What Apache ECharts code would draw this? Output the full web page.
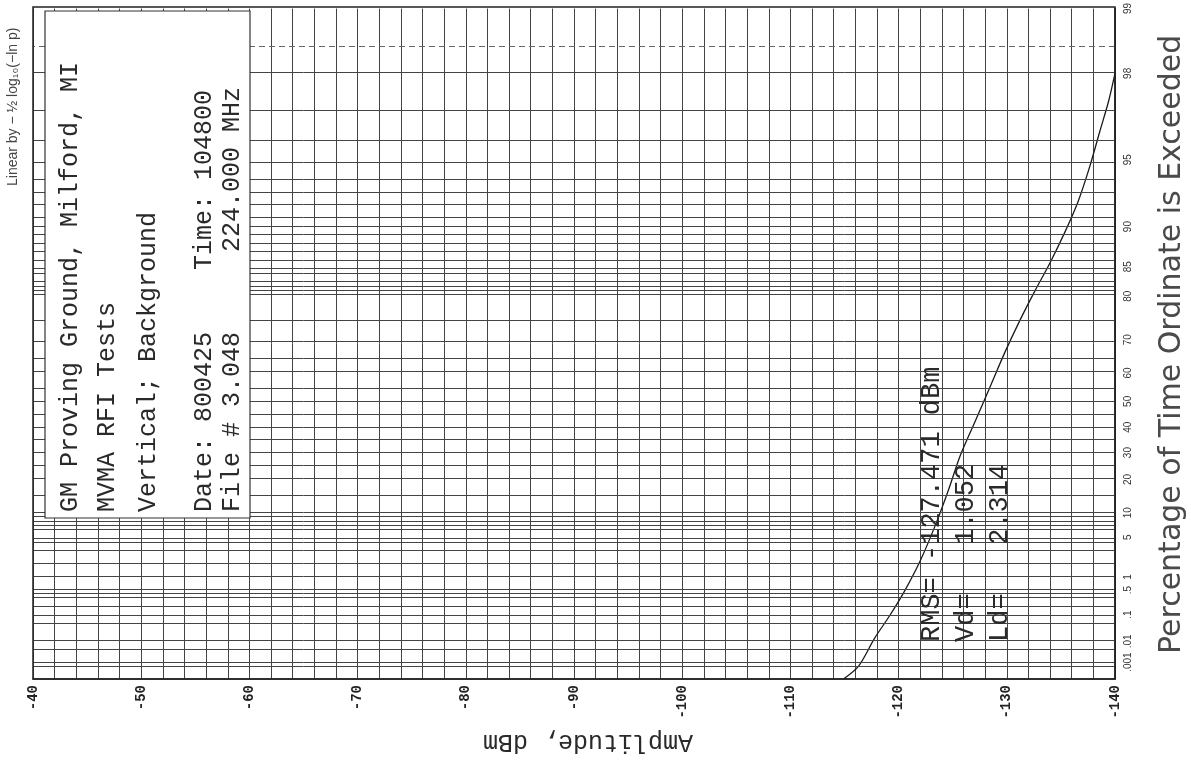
<!DOCTYPE html>
<html>
<head>
<meta charset="utf-8">
<script src="https://cdn.jsdelivr.net/npm/echarts@6/dist/echarts.min.js"></script>
<style>
html,body{margin:0;padding:0;background:#fff;}
#chart{width:1191px;height:764px;}
</style>
</head>
<body>
<div id="chart"></div>
<script>
// ---- data (amplitude in dBm, percentage of time exceeded) ----
const amplitudeDbm = [-114.9, -116.3, -117.8, -119.2, -120.6, -122.0, -123.4, -124.6, -125.7, -127.1, -128.5, -129.8, -131.2, -132.6, -134.0, -135.4, -136.6, -137.7, -138.6, -139.4, -140.0];
const percentExceeded = [0.0001, 0.0006, 0.014, 0.096, 0.50, 2.1, 7.2, 16.4, 28.9, 42.6, 55.7, 66.3, 74.8, 81.0, 85.6, 89.5, 92.3, 94.7, 96.3, 97.3, 98.0];

// percentage tick labels (right axis)
const pctTicks = [99, 98, 95, 90, 85, 80, 70, 60, 50, 40, 30, 20, 10, 5, 1, 0.5, 0.1, 0.01, 0.001, 0.0001];
const pctTickLabels = ['99', '98', '95', '90', '85', '80', '70', '60', '50', '40', '30', '20', '10', '5', '1', '.5', '.1', '.01', '.001', '.0001'];
// percentage grid lines printed on the paper
const pctGrid = [98, 97, 96, 95, 94, 93, 92, 91, 90, 89, 88, 87, 86, 85, 84, 83, 82, 81, 80, 75, 70, 65, 60, 55, 50, 45, 40, 35, 30, 25, 20, 15, 10, 9, 8, 7, 6, 5, 4, 3, 2, 1, 0.5, 0.4, 0.3, 0.2, 0.1, 0.05, 0.01, 0.005, 0.001, 0.0005];
const pctGridDashed = [98.5];

// axis scale of the paper: linear in -1/2 log10(-ln p)
function paperScale(pct) { return -0.5 * Math.log10(-Math.log(pct / 100)); }

const yMin = paperScale(0.0001);
const yMax = paperScale(99);

const curve = amplitudeDbm.map((a, i) => [a, paperScale(percentExceeded[i])]);

const lineColor = '#444';
const markData = pctGrid.map(p => ({ yAxis: paperScale(p), lineStyle: { color: lineColor, width: 1, type: 'solid' } }))
  .concat(pctGridDashed.map(p => ({ yAxis: paperScale(p), lineStyle: { color: '#666', width: 1, type: [6, 4] } })));

const tickVals = pctTicks.map(paperScale);
function labelFor(v) {
  let best = 0, bd = Infinity;
  tickVals.forEach((t, i) => { const d = Math.abs(t - v); if (d < bd) { bd = d; best = i; } });
  return pctTickLabels[best];
}

const mono = '"Liberation Mono", "DejaVu Sans Mono", monospace';
const sans = '"Liberation Sans", "DejaVu Sans", sans-serif';

function vtext(x, y, text, font, extra, fill) {
  return Object.assign({
    type: 'text', x: x, y: y, rotation: Math.PI / 2, silent: true,
    style: { text: text, font: font, fill: fill || '#2a2a2a', textAlign: 'left', align: 'left', textVerticalAlign: 'middle', verticalAlign: 'middle' }
  }, extra || {});
}

const chart = echarts.init(document.getElementById('chart'), null, { renderer: 'canvas' });
chart.setOption({
  backgroundColor: '#ffffff',
  animation: false,
  grid: { left: 33, right: 76, top: 7, bottom: 85, show: false },
  xAxis: {
    type: 'value', min: -140, max: -40, interval: 2, inverse: true,
    axisLine: { show: true, onZero: false, lineStyle: { color: '#222', width: 1.5 } },
    axisTick: { show: false },
    splitLine: { show: true, lineStyle: { color: lineColor, width: 1 } },
    axisLabel: {
      rotate: 90, margin: 6, showMinLabel: true, showMaxLabel: true,
      fontFamily: mono, fontSize: 14, fontWeight: 'bold', color: '#222',
      formatter: v => (Math.round(v) % 10 === 0 ? String(Math.round(v)) : '')
    }
  },
  yAxis: {
    type: 'value', position: 'right', min: yMin, max: yMax,
    axisLine: { show: true, lineStyle: { color: '#222', width: 1.5 } },
    axisTick: { show: false, customValues: tickVals },
    splitLine: { show: false },
    axisLabel: {
      customValues: tickVals, rotate: 90, margin: 8,
      fontFamily: sans, fontSize: 10, color: '#333',
      formatter: v => labelFor(v)
    }
  },
  series: [{
    type: 'line', data: curve, smooth: 0.3, symbol: 'none', silent: true,
    lineStyle: { color: '#1a1a1a', width: 1.3 },
    markLine: { silent: true, symbol: ['none', 'none'], label: { show: false }, data: markData, animation: false }
  }],
  graphic: [
    { type: 'rect', shape: { x: 33, y: 7, width: 1082, height: 672 }, style: { fill: 'none', stroke: '#222', lineWidth: 1.5 }, silent: true, z: 10 },
    { type: 'rect', shape: { x: 45, y: 11, width: 205, height: 507 }, style: { fill: '#fff', stroke: '#333', lineWidth: 1.2 }, silent: true, z: 9 },
    vtext(70, 512, 'GM Proving Ground, Milford, MI', '25px ' + mono, { z: 11 }),
    vtext(107, 512, 'MVMA RFI Tests', '25px ' + mono, { z: 11 }),
    vtext(148, 512, 'Vertical; Background', '25px ' + mono, { z: 11 }),
    vtext(204, 512, 'Date: 800425', '25px ' + mono, { z: 11 }),
    vtext(204, 270, 'Time: 104800', '25px ' + mono, { z: 11 }),
    vtext(232, 512, 'File # 3.048', '25px ' + mono, { z: 11 }),
    vtext(232, 252, '224.000 MHz', '25px ' + mono, { z: 11 }),
    vtext(932, 642, 'RMS= -127.471 dBm', '27px ' + mono, { z: 11 }),
    vtext(966, 642, 'Vd=   1.052', '27px ' + mono, { z: 11 }),
    vtext(1000, 642, 'Ld=   2.314', '27px ' + mono, { z: 11 }),
    vtext(13, 186, 'Linear by − ½ log₁₀(−ln p)', '14px ' + sans, { z: 11 }, '#444'),
    vtext(1172, 654, 'Percentage of Time Ordinate is Exceeded', '30px "DejaVu Sans", sans-serif', { z: 11 }, '#4a4a4a'),
    { type: 'text', x: 588, y: 742, rotation: Math.PI, silent: true, z: 11,
      style: { text: 'Amplitude, dBm', font: '25px ' + mono, fill: '#2a2a2a', textAlign: 'center', align: 'center', textVerticalAlign: 'middle', verticalAlign: 'middle' } }
  ]
});
</script>
</body>
</html>
